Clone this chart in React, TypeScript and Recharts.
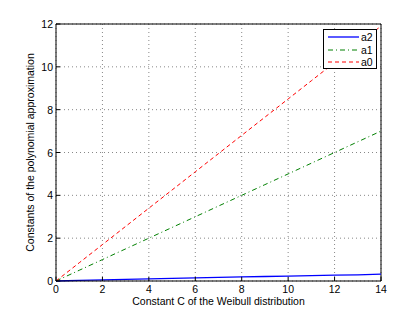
import React from "react";
import {
  LineChart,
  Line,
  XAxis,
  YAxis,
  CartesianGrid,
  ReferenceLine,
} from "recharts";

// Constant C of the Weibull distribution
const C_VALUES = [0, 1, 2, 3, 4, 5, 6, 7, 8, 9, 10, 11, 12, 13, 14];
// polynomial constants
const A2 = [0, 0.03, 0.055, 0.08, 0.1, 0.125, 0.15, 0.17, 0.19, 0.21, 0.23, 0.25, 0.27, 0.29, 0.32];
const A1 = [0, 0.5, 1, 1.5, 2, 2.5, 3, 3.5, 4, 4.5, 5, 5.5, 6, 6.5, 7];
const A0 = [0, 0.85, 1.7, 2.55, 3.4, 4.25, 5.1, 5.95, 6.8, 7.65, 8.5, 9.35, 10.2, 11.05, 11.9];

const X_TICKS = [0, 2, 4, 6, 8, 10, 12, 14];
const Y_TICKS = [0, 2, 4, 6, 8, 10, 12];

const SERIES = [
  { key: "a2", color: "#0000ff", dash: undefined, width: 1.3 },
  { key: "a1", color: "#008000", dash: "5 3 1 3", width: 1 },
  { key: "a0", color: "#ff0000", dash: "4 3", width: 1 },
];

const FONT = "'Liberation Sans', Arial, sans-serif";
const FS = 10.5;

const data = C_VALUES.map((c, i) => ({ c, a2: A2[i], a1: A1[i], a0: A0[i] }));

const BottomTick = (props: any) => {
  const { x, y, payload } = props;
  return (
    <g>
      <line x1={x} x2={x} y1={y} y2={y - 4} stroke="#000" />
      <text x={x} y={y + 12} textAnchor="middle" fontSize={FS} fill="#000" fontFamily={FONT}>
        {payload.value}
      </text>
    </g>
  );
};

const LeftTick = (props: any) => {
  const { x, y, payload } = props;
  return (
    <g>
      <line x1={x} x2={x + 4} y1={y} y2={y} stroke="#000" />
      <text x={x - 3} y={y + 4} textAnchor="end" fontSize={FS} fill="#000" fontFamily={FONT}>
        {payload.value}
      </text>
    </g>
  );
};

const TopTick = (props: any) => {
  const { x, y } = props;
  return <line x1={x} x2={x} y1={y} y2={y + 4} stroke="#000" />;
};

const RightTick = (props: any) => {
  const { x, y } = props;
  return <line x1={x} x2={x - 4} y1={y} y2={y} stroke="#000" />;
};

const LegendBox = () => (
  <div
    style={{
      position: "absolute",
      left: 323,
      top: 29,
      background: "#fff",
      border: "1px solid #000",
      width: 54,
      height: 40,
      boxSizing: "border-box",
      padding: "1px 0 0 3px",
      fontFamily: FONT,
      fontSize: FS,
      lineHeight: "12.5px",
    }}
  >
    {SERIES.map((s) => (
      <div key={s.key} style={{ display: "flex", alignItems: "center", height: 12.5 }}>
        <svg width={33} height={12}>
          <line
            x1={1}
            x2={32}
            y1={6}
            y2={6}
            stroke={s.color}
            strokeWidth={s.width}
            strokeDasharray={s.dash}
          />
        </svg>
        <span style={{ marginLeft: 1 }}>{s.key}</span>
      </div>
    ))}
  </div>
);

export default function App() {
  return (
    <div style={{ position: "absolute", left: 0, top: 0, width: 410, height: 319, background: "#fff" }}>
      <LineChart
        width={410}
        height={319}
        data={data}
        margin={{ top: 24, right: 29, left: 26, bottom: 18 }}
      >
        <CartesianGrid xAxisId="b" yAxisId="l" stroke="#888" strokeDasharray="1 3" />
        <XAxis
          xAxisId="b"
          dataKey="c"
          type="number"
          domain={[0, 14]}
          ticks={X_TICKS}
          height={20}
          stroke="#000"
          tickLine={false}
          tickSize={0}
          tickMargin={0}
          tick={<BottomTick />}
          label={{
            value: "Constant C of the Weibull distribution",
            position: "insideBottom",
            offset: -4,
            fontSize: FS,
            fill: "#000",
            fontFamily: FONT,
          }}
        />
        <XAxis
          xAxisId="t"
          orientation="top"
          dataKey="c"
          type="number"
          domain={[0, 14]}
          ticks={X_TICKS}
          height={0}
          stroke="#000"
          tickLine={false}
          tickSize={0}
          tickMargin={0}
          tick={<TopTick />}
        />
        <YAxis
          yAxisId="l"
          type="number"
          domain={[0, 12]}
          ticks={Y_TICKS}
          width={30}
          stroke="#000"
          tickLine={false}
          tickSize={0}
          tickMargin={0}
          tick={<LeftTick />}
          label={{
            value: "Constants of the polynomial approximation",
            angle: -90,
            position: "insideLeft",
            offset: 0,
            dx: 4,
            style: { textAnchor: "middle" },
            fontSize: FS,
            fill: "#000",
            fontFamily: FONT,
          }}
        />
        <YAxis
          yAxisId="r"
          orientation="right"
          type="number"
          domain={[0, 12]}
          ticks={Y_TICKS}
          width={0}
          stroke="#000"
          tickLine={false}
          tickSize={0}
          tickMargin={0}
          tick={<RightTick />}
        />
        <ReferenceLine xAxisId="b" yAxisId="l" y={12} stroke="#000" />
        <ReferenceLine xAxisId="b" yAxisId="l" x={14} stroke="#000" />
        {SERIES.map((s) => (
          <Line
            key={s.key}
            xAxisId="b"
            yAxisId="l"
            dataKey={s.key}
            stroke={s.color}
            strokeWidth={s.width}
            strokeDasharray={s.dash}
            dot={false}
            type="linear"
            isAnimationActive={false}
          />
        ))}
      </LineChart>
      <LegendBox />
    </div>
  );
}
